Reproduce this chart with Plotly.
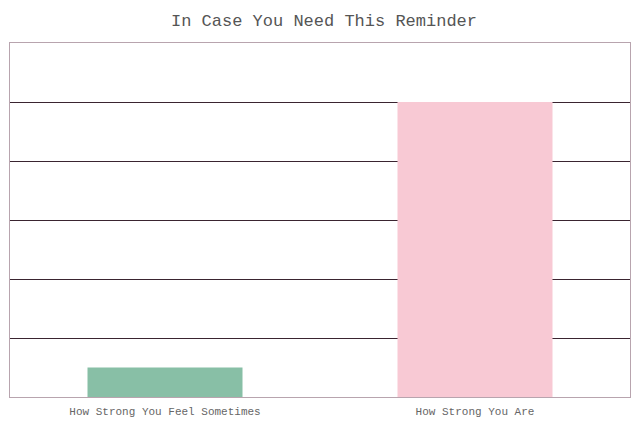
import plotly.graph_objects as go

# data
categories = ['How Strong You Feel Sometimes', 'How Strong You Are']
values = [0.5, 5]
bar_colors = ['#88bfa6', '#f8c9d4']

TYPE_FONT = 'Liberation Mono, Courier New, monospace'

fig = go.Figure(
    go.Bar(
        x=categories,
        y=values,
        marker_color=bar_colors,
        marker_line_width=0,
        width=0.5,
    )
)

# page body has an 8px margin, so the figure is a little smaller
fig.update_layout(
    width=632,
    height=419,
    paper_bgcolor='white',
    plot_bgcolor='white',
    margin={'t': 35, 'r': 10, 'b': 30, 'l': 2},
    showlegend=False,
    title={
        'text': 'In Case You Need This Reminder',
        'font': {'family': TYPE_FONT, 'size': 17, 'color': '#555555'},
        'x': 0.5,
        'xanchor': 'center',
        'y': 0.971,
        'yanchor': 'middle',
    },
    font={'family': TYPE_FONT, 'color': '#666666'},
)

fig.update_xaxes(
    showgrid=False,
    showline=True,
    linecolor='#b8a4ae',
    linewidth=1,
    mirror=True,
    ticks='',
    ticklabelstandoff=4,
    tickfont={'family': TYPE_FONT, 'size': 11, 'color': '#666666'},
)
fig.update_yaxes(
    range=[0, 6],
    dtick=1,
    showgrid=True,
    gridcolor='#3a2430',
    gridwidth=1,
    zeroline=False,
    showline=True,
    linecolor='#b8a4ae',
    linewidth=1,
    mirror=True,
    showticklabels=False,
    ticks='',
)

fig.write_html('out.html')
